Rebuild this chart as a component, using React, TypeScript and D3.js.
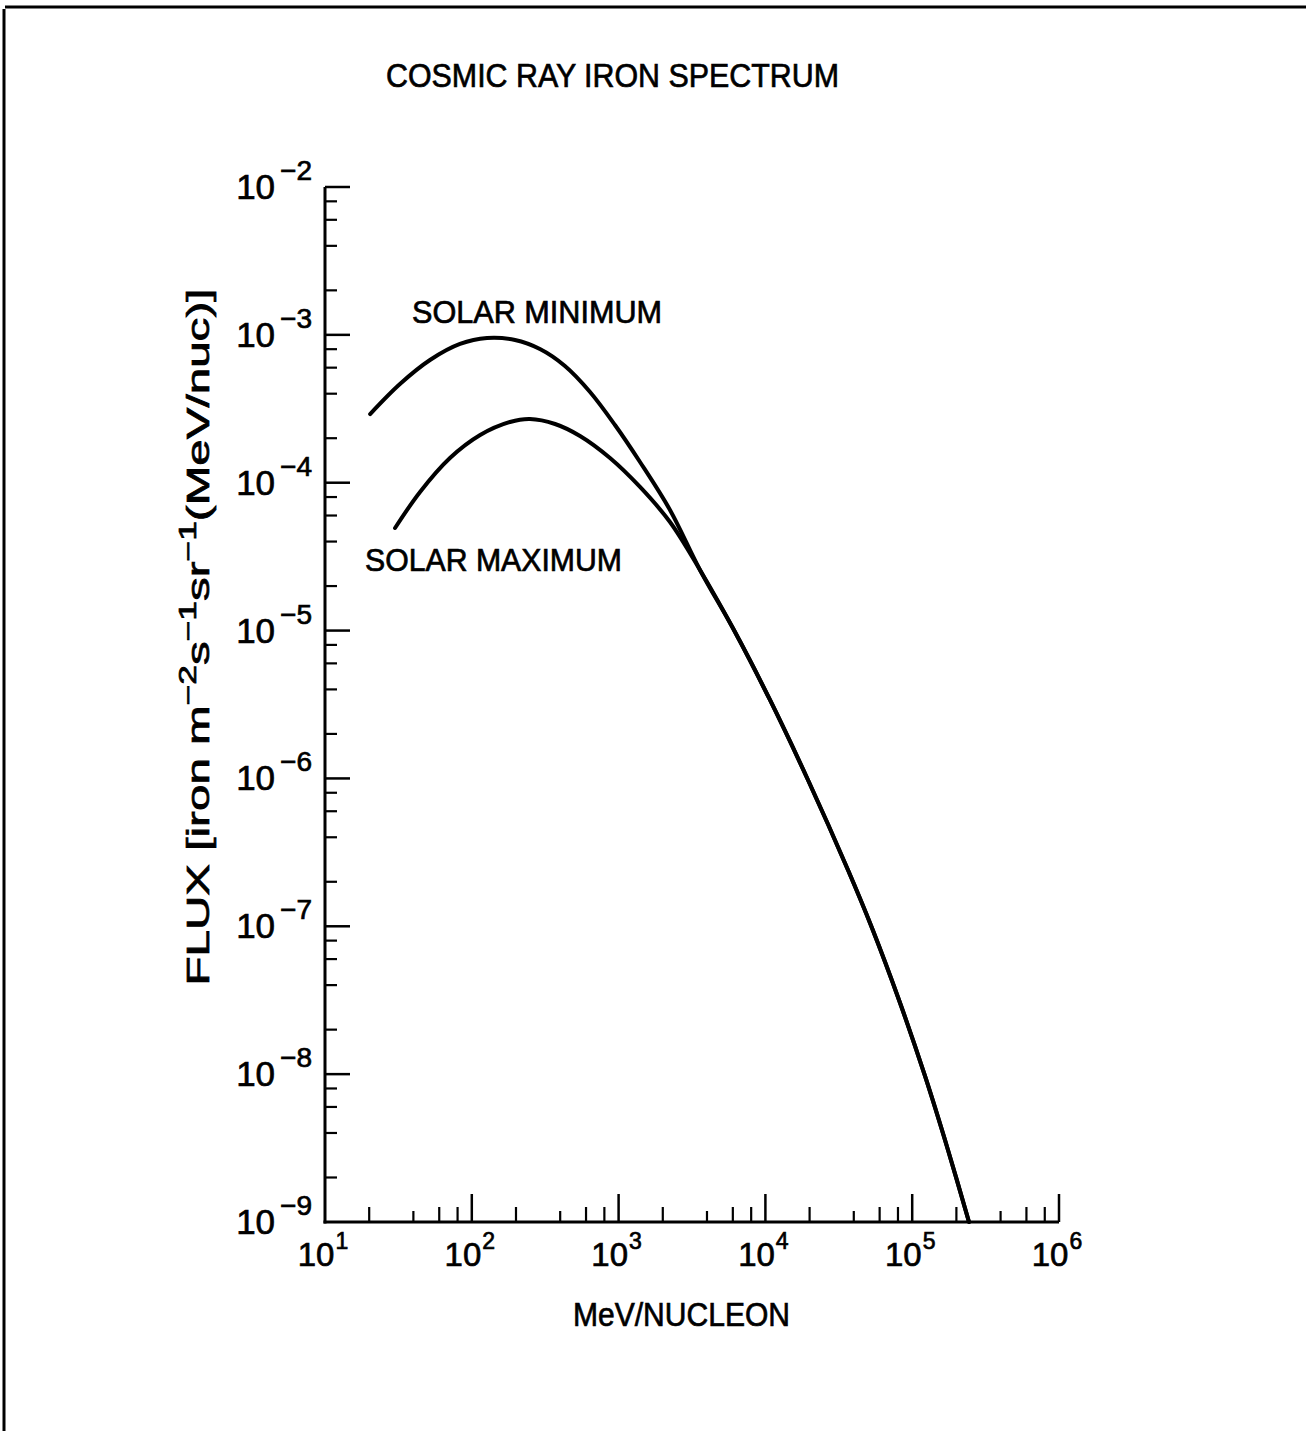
import React from 'react';
import * as d3 from 'd3';

const TITLE = 'COSMIC RAY IRON SPECTRUM';
const X_TITLE = 'MeV/NUCLEON';
const LABEL_MIN = 'SOLAR MINIMUM';
const LABEL_MAX = 'SOLAR MAXIMUM';
const X_EXPONENTS = [1, 2, 3, 4, 5, 6];
const Y_EXPONENTS = [-2, -3, -4, -5, -6, -7, -8, -9];
const MINOR_MULTIPLIERS = [2, 4, 6, 8];

// Solar minimum (low-energy branch): MeV/nucleon vs flux
const solarMinEnergy = [20.3, 32.4, 51.9, 83.1, 127, 197, 291, 431, 639, 945, 1399, 2239, 3585];
const solarMinFlux = [2.915e-4, 4.652e-4, 6.76e-4, 8.68e-4, 9.52e-4, 9.23e-4, 8.02e-4, 6.16e-4, 4.11e-4, 2.457e-4, 1.381e-4, 6.54e-5, 2.569e-5];
// Solar maximum (low-energy branch)
const solarMaxEnergy = [30.0, 44.4, 71.0, 114, 182, 249, 369, 546, 874, 1399, 2239, 3585];
const solarMaxFlux = [4.94e-5, 8.66e-5, 1.469e-4, 2.102e-4, 2.575e-4, 2.698e-4, 2.495e-4, 2.07e-4, 1.469e-4, 9.36e-5, 5.42e-5, 2.569e-5];
// Common high-energy tail
const tailEnergy = [6208, 10750, 19510, 36530, 53230, 81300, 122200, 175300, 243700];
const tailFlux = [9.78e-6, 3.393e-6, 9.76e-7, 2.403e-7, 9.74e-8, 3.173e-8, 9.72e-9, 3.07e-9, 1.0e-9];

const FONT = '"Liberation Sans", Arial, Helvetica, sans-serif';

export default function App() {
  const W = 1306;
  const H = 1431;
  const x = d3.scaleLog().domain([1e1, 1e6]).range([325, 1059]);
  const y = d3.scaleLog().domain([1e-9, 1e-2]).range([1222, 187]);

  const toPts = (es: number[], fs: number[]) => es.map((e, i) => [e, fs[i]] as [number, number]);
  const minPts = [...toPts(solarMinEnergy, solarMinFlux), ...toPts(tailEnergy, tailFlux)];
  const maxPts = [...toPts(solarMaxEnergy, solarMaxFlux), ...toPts(tailEnergy, tailFlux)];
  const line = d3
    .line<[number, number]>()
    .x((d) => x(d[0]))
    .y((d) => y(d[1]))
    .curve(d3.curveCatmullRom.alpha(0.5));

  const x0 = x.range()[0];
  const x1 = x.range()[1];
  const yBottom = y.range()[0];
  const yTop = y.range()[1];

  const yMinor: number[] = [];
  for (let e = -9; e < -2; e++) MINOR_MULTIPLIERS.forEach((m) => yMinor.push(m * Math.pow(10, e)));
  const xMinor: { v: number; m: number }[] = [];
  for (let e = 1; e < 6; e++) MINOR_MULTIPLIERS.forEach((m) => xMinor.push({ v: m * Math.pow(10, e), m }));

  const ink = { fill: '#000', stroke: '#000', strokeWidth: 0.7 };

  return (
    <svg
      width={W}
      height={H}
      viewBox={`0 0 ${W} ${H}`}
      style={{ position: 'absolute', left: 0, top: 0, background: '#fff' }}
      fontFamily={FONT}
    >
      <rect x={0} y={0} width={W} height={H} fill="#fff" />
      {/* page frame */}
      <line x1={5} x2={W} y1={7} y2={7} stroke="#000" strokeWidth={3} />
      <line x1={4} x2={4} y1={9} y2={H} stroke="#000" strokeWidth={3} />

      {/* title */}
      <text x={386} y={87} fontSize={34} textLength={453} lengthAdjust="spacingAndGlyphs" {...ink}>
        {TITLE}
      </text>

      {/* axes */}
      <line x1={x0} x2={x0} y1={yTop} y2={yBottom + 1.5} stroke="#000" strokeWidth={3} />
      <line x1={x0 - 1.5} x2={x1} y1={yBottom} y2={yBottom} stroke="#000" strokeWidth={3} />

      {/* y ticks */}
      {Y_EXPONENTS.filter((e) => e > -9).map((e) => (
        <line key={'ym' + e} x1={x0} x2={x0 + 25} y1={y(Math.pow(10, e))} y2={y(Math.pow(10, e))} stroke="#000" strokeWidth={2.5} />
      ))}
      {yMinor.map((v, i) => (
        <line key={'yn' + i} x1={x0} x2={x0 + 12} y1={y(v)} y2={y(v)} stroke="#000" strokeWidth={2.2} />
      ))}

      {/* x ticks */}
      {X_EXPONENTS.filter((e) => e > 1).map((e) => (
        <line key={'xm' + e} x1={x(Math.pow(10, e))} x2={x(Math.pow(10, e))} y1={yBottom} y2={yBottom - 28} stroke="#000" strokeWidth={2.5} />
      ))}
      {xMinor.map((t, i) => (
        <line key={'xn' + i} x1={x(t.v)} x2={x(t.v)} y1={yBottom} y2={yBottom - (t.m === 4 ? 11 : 15)} stroke="#000" strokeWidth={2.2} />
      ))}

      {/* y tick labels */}
      {Y_EXPONENTS.map((e) => (
        <text key={'yl' + e} x={312} y={y(Math.pow(10, e)) + 12} fontSize={35} textAnchor="end" {...ink}>
          10
          <tspan dx={5} dy={-19} fontSize={28}>
            {'\u2212' + Math.abs(e)}
          </tspan>
        </text>
      ))}

      {/* x tick labels */}
      {X_EXPONENTS.map((e) => (
        <text key={'xl' + e} x={x(Math.pow(10, e)) - 2} y={1266} fontSize={33} textAnchor="middle" {...ink}>
          10
          <tspan dx={1} dy={-17} fontSize={23}>
            {String(e)}
          </tspan>
        </text>
      ))}

      {/* x title */}
      <text x={573} y={1326} fontSize={34} textLength={217} lengthAdjust="spacingAndGlyphs" {...ink}>
        {X_TITLE}
      </text>

      {/* y title */}
      <g transform="translate(209,637) rotate(-90)">
        <text x={0} y={0} fontSize={31} textAnchor="middle" textLength={697} lengthAdjust="spacingAndGlyphs" {...ink}>
          FLUX [iron m
          <tspan dy={-13} fontSize={23}>{'\u22122'}</tspan>
          <tspan dy={13}>s</tspan>
          <tspan dy={-13} fontSize={23}>{'\u22121'}</tspan>
          <tspan dy={13}>sr</tspan>
          <tspan dy={-13} fontSize={23}>{'\u22121'}</tspan>
          <tspan dy={13}>(MeV/nuc)]</tspan>
        </text>
      </g>

      {/* curves */}
      <path d={line(minPts) || ''} fill="none" stroke="#000" strokeWidth={4} strokeLinecap="round" strokeLinejoin="round" />
      <path d={line(maxPts) || ''} fill="none" stroke="#000" strokeWidth={4} strokeLinecap="round" strokeLinejoin="round" />

      {/* curve labels */}
      <text x={412} y={323} fontSize={32} textLength={250} lengthAdjust="spacingAndGlyphs" {...ink}>
        {LABEL_MIN}
      </text>
      <text x={365} y={571} fontSize={32} textLength={257} lengthAdjust="spacingAndGlyphs" {...ink}>
        {LABEL_MAX}
      </text>
    </svg>
  );
}
